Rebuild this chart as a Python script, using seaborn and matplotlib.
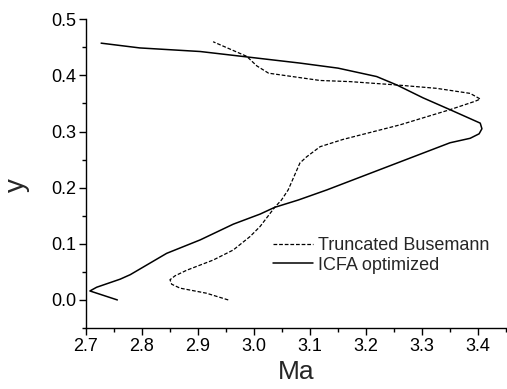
import matplotlib
matplotlib.use("Agg")
import matplotlib.pyplot as plt
import seaborn as sns
import pandas as pd
from matplotlib.ticker import MultipleLocator

busemann_ma = [2.954, 2.915, 2.868, 2.853, 2.850, 2.859, 2.880, 2.927, 2.963, 2.993, 3.011,
               3.037, 3.049, 3.061, 3.082, 3.094, 3.118, 3.159, 3.261, 3.350, 3.395,
               3.404, 3.386, 3.326, 3.255, 3.171, 3.118, 3.026, 3.005, 2.987, 2.927]
busemann_y = [0.000, 0.012, 0.021, 0.028, 0.036, 0.043, 0.053, 0.071, 0.089, 0.113, 0.131,
              0.165, 0.178, 0.196, 0.244, 0.255, 0.273, 0.286, 0.312, 0.339, 0.354,
              0.358, 0.368, 0.377, 0.383, 0.389, 0.391, 0.404, 0.417, 0.434, 0.460]

icfa_ma = [2.756, 2.707, 2.719, 2.761, 2.779, 2.844, 2.904, 2.963, 3.011, 3.037, 3.079,
           3.130, 3.350, 3.386, 3.402, 3.407, 3.404, 3.350, 3.302, 3.255, 3.219, 3.150,
           3.082, 2.987, 2.904, 2.796, 2.727]
icfa_y = [0.000, 0.016, 0.0226, 0.037, 0.045, 0.083, 0.107, 0.135, 0.153, 0.165, 0.178,
          0.196, 0.280, 0.288, 0.296, 0.305, 0.315, 0.339, 0.360, 0.383, 0.398, 0.413,
          0.422, 0.433, 0.4426, 0.449, 0.4575]

series_names = ["Truncated Busemann", "ICFA optimized"]

df = pd.concat([
    pd.DataFrame({"Ma": busemann_ma, "y": busemann_y, "series": series_names[0]}),
    pd.DataFrame({"Ma": icfa_ma, "y": icfa_y, "series": series_names[1]}),
])

sns.set_style("ticks")
plt.rcParams["font.family"] = ["Liberation Sans", "DejaVu Sans"]

fig = plt.figure(figsize=(5.07, 3.89), dpi=100)
ax = fig.add_axes([86/507, 1-328/389, 420/507, (328-19.3)/389])

styles = {series_names[0]: (0, (3, 1.5)), series_names[1]: "-"}
widths = {series_names[0]: 0.9, series_names[1]: 1.1}
for name in series_names:
    sub = df[df["series"] == name]
    sns.lineplot(data=sub, x="Ma", y="y", sort=False, estimator=None, ax=ax,
                 color="black", linestyle=styles[name], linewidth=widths[name], label=name)

xtick_vals = [2.7, 2.8, 2.9, 3.0, 3.1, 3.2, 3.3, 3.4]
ytick_vals = [0.0, 0.1, 0.2, 0.3, 0.4, 0.5]

ax.set_xlim(2.7, 3.45)
ax.set_ylim(-0.05, 0.5)
ax.set_xticks(xtick_vals)
ax.set_xticklabels([f"{v:.1f}" for v in xtick_vals], fontsize=13)
ax.set_yticks(ytick_vals)
ax.set_yticklabels([f"{v:.1f}" for v in ytick_vals], fontsize=13)
ax.xaxis.set_minor_locator(MultipleLocator(0.05))
ax.yaxis.set_minor_locator(MultipleLocator(0.05))
ax.tick_params(which="major", direction="out", length=5, width=1, colors="black", pad=2)
ax.tick_params(which="minor", direction="out", length=3, width=1, colors="black")
for s in ["top", "right"]:
    ax.spines[s].set_visible(False)
for s in ["left", "bottom"]:
    ax.spines[s].set_color("black")
    ax.spines[s].set_linewidth(1)

ax.set_xlabel("Ma", fontsize=19, labelpad=4)
ax.set_ylabel("y", fontsize=20)
ax.yaxis.set_label_coords(-0.133, 0.463)

leg = ax.legend(loc="center left", bbox_to_anchor=(0.4286, 0.235), frameon=False,
                fontsize=13, handlelength=2.2, handletextpad=0.3, labelspacing=0.15,
                borderaxespad=0)

fig.savefig("out.png", dpi=100)
